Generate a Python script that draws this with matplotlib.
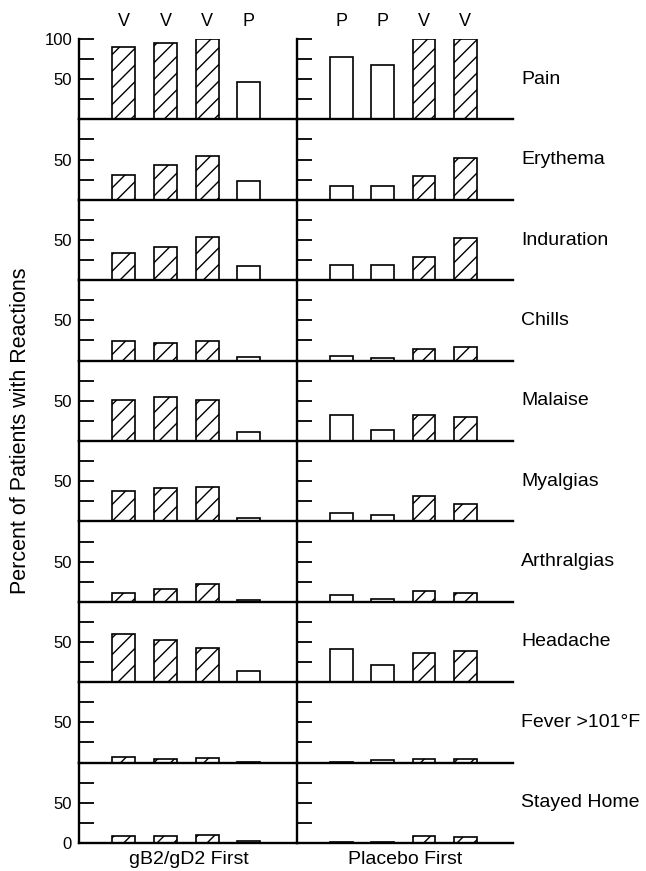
import matplotlib
matplotlib.use('Agg')
import matplotlib.pyplot as plt

plt.rcParams['font.family'] = ['Liberation Sans', 'DejaVu Sans']
plt.rcParams['hatch.linewidth'] = 1.0

reactions = ['Pain', 'Erythema', 'Induration', 'Chills', 'Malaise', 'Myalgias',
             'Arthralgias', 'Headache', 'Fever >101\u00b0F', 'Stayed Home']

# gB2/gD2 first group: doses V V V P
vaccine_first = [[90, 95, 100, 47],
                 [31, 43, 55, 24],
                 [34, 41, 54, 18],
                 [24, 22, 24, 5],
                 [51, 55, 51, 11],
                 [38, 42, 43, 4],
                 [11, 16, 22, 2],
                 [60, 52, 42, 14],
                 [7, 5, 6, 1],
                 [9, 9, 10, 2]]
# placebo first group: doses P P V V
placebo_first = [[77, 68, 100, 100],
                 [17, 17, 30, 52],
                 [19, 19, 29, 52],
                 [6, 3, 14, 17],
                 [32, 14, 32, 30],
                 [11, 8, 31, 22],
                 [8, 3, 13, 11],
                 [41, 22, 36, 39],
                 [1, 3, 5, 5],
                 [1, 1, 9, 7]]

doses_left = ['V', 'V', 'V', 'P']
doses_right = ['P', 'P', 'V', 'V']
group_names = ['gB2/gD2 First', 'Placebo First']

x = [1, 2, 3, 4]
fig = plt.figure(figsize=(6.46, 8.71), dpi=100)

left0 = 79 / 646
mid = 297 / 646
right1 = 513 / 646
top = 1 - 39 / 871
bottom = 1 - 843 / 871
n = len(reactions)
h = (top - bottom) / n

for i in range(n):
    y0 = top - (i + 1) * h
    for j, (vals, doses) in enumerate([(vaccine_first[i], doses_left),
                                       (placebo_first[i], doses_right)]):
        if j == 0:
            ax = fig.add_axes([left0, y0, mid - left0, h])
        else:
            ax = fig.add_axes([mid, y0, right1 - mid, h])
        for xi, v, d in zip(x, vals, doses):
            ax.bar(xi, v, 0.55, color='white', edgecolor='black', linewidth=1.2,
                   hatch='//' if d == 'V' else None)
        ax.set_xlim(-0.07, 5.15)
        ax.set_ylim(0, 100)
        ax.set_xticks([])
        for s in ['top', 'right']:
            ax.spines[s].set_visible(False)
        for s in ['left', 'bottom']:
            ax.spines[s].set_linewidth(1.7)
        ticks = [25, 50, 75]
        labels = ['', '50', '']
        if i == 0:
            ticks = ticks + [100]
            labels = labels + ['100']
        if i == n - 1:
            ticks = [0] + ticks
            labels = ['0'] + labels
        ax.set_yticks(ticks)
        if j == 0:
            ax.set_yticklabels(labels, fontsize=12)
        else:
            ax.set_yticklabels([])
        ax.tick_params(axis='y', direction='in', length=11, width=1.3, pad=5)
        ax.patch.set_visible(False)
        if i == 0:
            for xi, d in zip(x, doses):
                ax.text(xi, 122, d, ha='center', va='center', fontsize=13,
                        clip_on=False)
        if i == n - 1:
            ax.text(2.55, -21, group_names[j], ha='center', va='center', fontsize=14,
                    clip_on=False)
        if j == 1:
            ax.text(5.35, 50, reactions[i], ha='left', va='center', fontsize=14,
                    clip_on=False)

fig.text(0.031, 0.506, 'Percent of Patients with Reactions', rotation=90,
         ha='center', va='center', fontsize=15.5)

fig.savefig('out.png', dpi=100)
